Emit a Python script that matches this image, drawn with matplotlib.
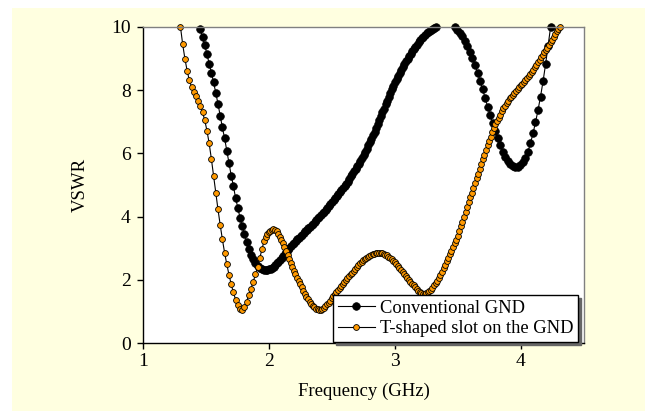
import matplotlib
matplotlib.use("Agg")
import matplotlib.pyplot as plt
from matplotlib.patches import Rectangle
import numpy as np

# Conventional GND: three sweeps (sparse, dense, sparse); curve is above 10 in the gap
conv_seg1 = [9.95, 9.67, 9.42, 9.14, 8.84, 8.56, 8.25, 7.92, 7.57, 7.19,
             6.82, 6.48, 6.08, 5.70, 5.30, 4.97, 4.58, 4.28, 3.96, 3.70,
             3.44, 3.20, 2.97, 2.79, 2.65, 2.54, 2.44, 2.38, 2.34, 2.32]
conv_seg2 = [2.32, 2.32, 2.33, 2.35, 2.38, 2.42, 2.47, 2.52, 2.57, 2.62,
             2.68, 2.75, 2.82, 2.89, 2.95, 3.01, 3.07, 3.13, 3.18, 3.23,
             3.28, 3.33, 3.38, 3.43, 3.48, 3.53, 3.58, 3.63, 3.68, 3.73,
             3.78, 3.83, 3.89, 3.94, 4.00, 4.05, 4.11, 4.16, 4.22, 4.28,
             4.33, 4.39, 4.45, 4.51, 4.58, 4.64, 4.70, 4.77, 4.83, 4.90,
             4.97, 5.04, 5.11, 5.19, 5.27, 5.35, 5.43, 5.51, 5.60, 5.68,
             5.77, 5.86, 5.95, 6.05, 6.15, 6.25, 6.35, 6.46, 6.57, 6.68,
             6.80, 6.92, 7.05, 7.17, 7.30, 7.42, 7.55, 7.67, 7.80, 7.91,
             8.03, 8.14, 8.25, 8.35, 8.45, 8.55, 8.65, 8.74, 8.83, 8.91,
             9.00, 9.08, 9.15, 9.23, 9.30, 9.37, 9.44, 9.51, 9.58, 9.64,
             9.69, 9.75, 9.80, 9.84, 9.88, 9.92, 9.95, 9.98, 10.0]
conv_seg3 = [10.0, 9.92, 9.82, 9.70, 9.56, 9.40, 9.22, 9.02, 8.80, 8.56,
             8.30, 8.03, 7.75, 7.48, 7.22, 6.97, 6.72, 6.48, 6.26, 6.06,
             5.89, 5.76, 5.66, 5.60, 5.57, 5.58, 5.63, 5.72, 5.86, 6.06,
             6.32, 6.63, 6.98, 7.37, 7.80, 8.28, 8.82, 9.40, 10.0]

# T-shaped slot on the GND: sparse sweep then dense sweep
slot_seg1 = [10.0, 9.45, 9.00, 8.62, 8.32, 8.11, 7.95, 7.81, 7.67, 7.50,
             7.30, 7.05, 6.72, 6.32, 5.83, 5.30, 4.75, 4.23, 3.74, 3.28,
             2.86, 2.49, 2.16, 1.86, 1.60, 1.37, 1.20, 1.08, 1.04, 1.14,
             1.31, 1.52, 1.72, 1.94, 2.17, 2.42, 2.70, 2.98]
slot_seg2 = [3.22, 3.35, 3.45, 3.51, 3.55, 3.58, 3.60, 3.59, 3.54, 3.45,
             3.36, 3.26, 3.16, 3.04, 2.92, 2.80, 2.67, 2.54, 2.41, 2.28,
             2.18, 2.05, 1.95, 1.86, 1.76, 1.66, 1.56, 1.47, 1.38, 1.31,
             1.24, 1.18, 1.13, 1.09, 1.07, 1.05, 1.05, 1.08, 1.12, 1.17,
             1.22, 1.28, 1.34, 1.41, 1.48, 1.54, 1.61, 1.67, 1.73, 1.80,
             1.86, 1.92, 1.99, 2.05, 2.11, 2.17, 2.23, 2.29, 2.35, 2.41,
             2.47, 2.52, 2.57, 2.62, 2.66, 2.70, 2.73, 2.76, 2.79, 2.81,
             2.83, 2.85, 2.86, 2.86, 2.85, 2.84, 2.82, 2.80, 2.77, 2.73,
             2.69, 2.65, 2.60, 2.55, 2.49, 2.43, 2.37, 2.31, 2.25, 2.19,
             2.13, 2.07, 2.00, 1.94, 1.88, 1.82, 1.77, 1.71, 1.66, 1.62,
             1.58, 1.56, 1.55, 1.57, 1.60, 1.64, 1.69, 1.75, 1.82, 1.89,
             1.97, 2.06, 2.16, 2.26, 2.37, 2.48, 2.59, 2.70, 2.81, 2.92,
             3.03, 3.15, 3.27, 3.40, 3.54, 3.69, 3.84, 4.00, 4.15, 4.31,
             4.46, 4.61, 4.76, 4.91, 5.06, 5.21, 5.36, 5.51, 5.66, 5.81,
             5.96, 6.10, 6.25, 6.39, 6.53, 6.67, 6.80, 6.92, 7.03, 7.13,
             7.23, 7.33, 7.43, 7.51, 7.59, 7.67, 7.74, 7.80, 7.86, 7.92,
             7.98, 8.04, 8.10, 8.15, 8.21, 8.26, 8.32, 8.38, 8.44, 8.50,
             8.57, 8.65, 8.73, 8.81, 8.89, 8.97, 9.05, 9.12, 9.20, 9.27,
             9.35, 9.43, 9.51, 9.60, 9.69, 9.78, 9.86, 9.93, 10.0]

# frequency sweeps (GHz): start, stop of each segment
conv_freq = np.concatenate([np.linspace(1.455, 1.9625, len(conv_seg1)),
                            np.linspace(1.975, 3.325, len(conv_seg2)),
                            [np.nan],
                            np.linspace(3.475, 4.235, len(conv_seg3))])
conv_vswr = np.concatenate([conv_seg1, conv_seg2, [np.nan], conv_seg3])
slot_freq = np.concatenate([np.linspace(1.2975, 1.945, len(slot_seg1)),
                            np.linspace(1.96, 4.31, len(slot_seg2))])
slot_vswr = np.concatenate([slot_seg1, slot_seg2])

x_ticks = [1, 2, 3, 4]
y_ticks = [0, 2, 4, 6, 8, 10]

plt.rcParams['font.family'] = ['Liberation Serif', 'DejaVu Serif']
plt.rcParams['font.size'] = 13.5

fig = plt.figure(figsize=(6.45, 4.11), dpi=100, facecolor='white')
fig.patches.append(Rectangle((12 / 645, 0), 1, 403 / 411, transform=fig.transFigure,
                             facecolor='#FFFFE0', edgecolor='none', zorder=-10))
ax = fig.add_axes([143 / 645, 68 / 411, 441 / 645, 316 / 411])
ax.set_facecolor('white')

ax.plot(conv_freq, conv_vswr, color='black', lw=0.8, marker='o', ms=5.5,
        mfc='black', mec='black', mew=0.5, label='Conventional GND', clip_on=False)
ax.plot(slot_freq, slot_vswr, color='black', lw=0.8, marker='o', ms=4.2,
        mfc='#FF9900', mec='black', mew=0.6, label='T-shaped slot on the GND', clip_on=False)

ax.set_xlim(1, 4.5)
ax.set_ylim(0, 10)
ax.set_xticks(x_ticks)
ax.set_yticks(y_ticks)
ax.tick_params(direction='out', length=4, width=1, top=False, right=False,
               labelsize=14)
ax.tick_params(axis='y', pad=5)
ax.tick_params(axis='x', pad=3)
for s in ['left', 'bottom']:
    ax.spines[s].set_color('black')
    ax.spines[s].set_linewidth(1.0)
for s in ['top', 'right']:
    ax.spines[s].set_color('#808080')
    ax.spines[s].set_linewidth(1.0)

ax.set_xlabel('Frequency (GHz)', labelpad=9)
ax.set_ylabel('VSWR', labelpad=16)

leg = ax.legend(loc='lower right', bbox_to_anchor=(0.987, 0.003), borderaxespad=0,
                fancybox=False, shadow={'color': '0.4', 'alpha': 1},
                edgecolor='black', framealpha=1, handlelength=2.0, fontsize=13.3,
                handletextpad=0.3, labelspacing=0.2, borderpad=0.25)
leg.get_frame().set_linewidth(1.0)

fig.savefig('out.png', dpi=100, facecolor=fig.get_facecolor())
